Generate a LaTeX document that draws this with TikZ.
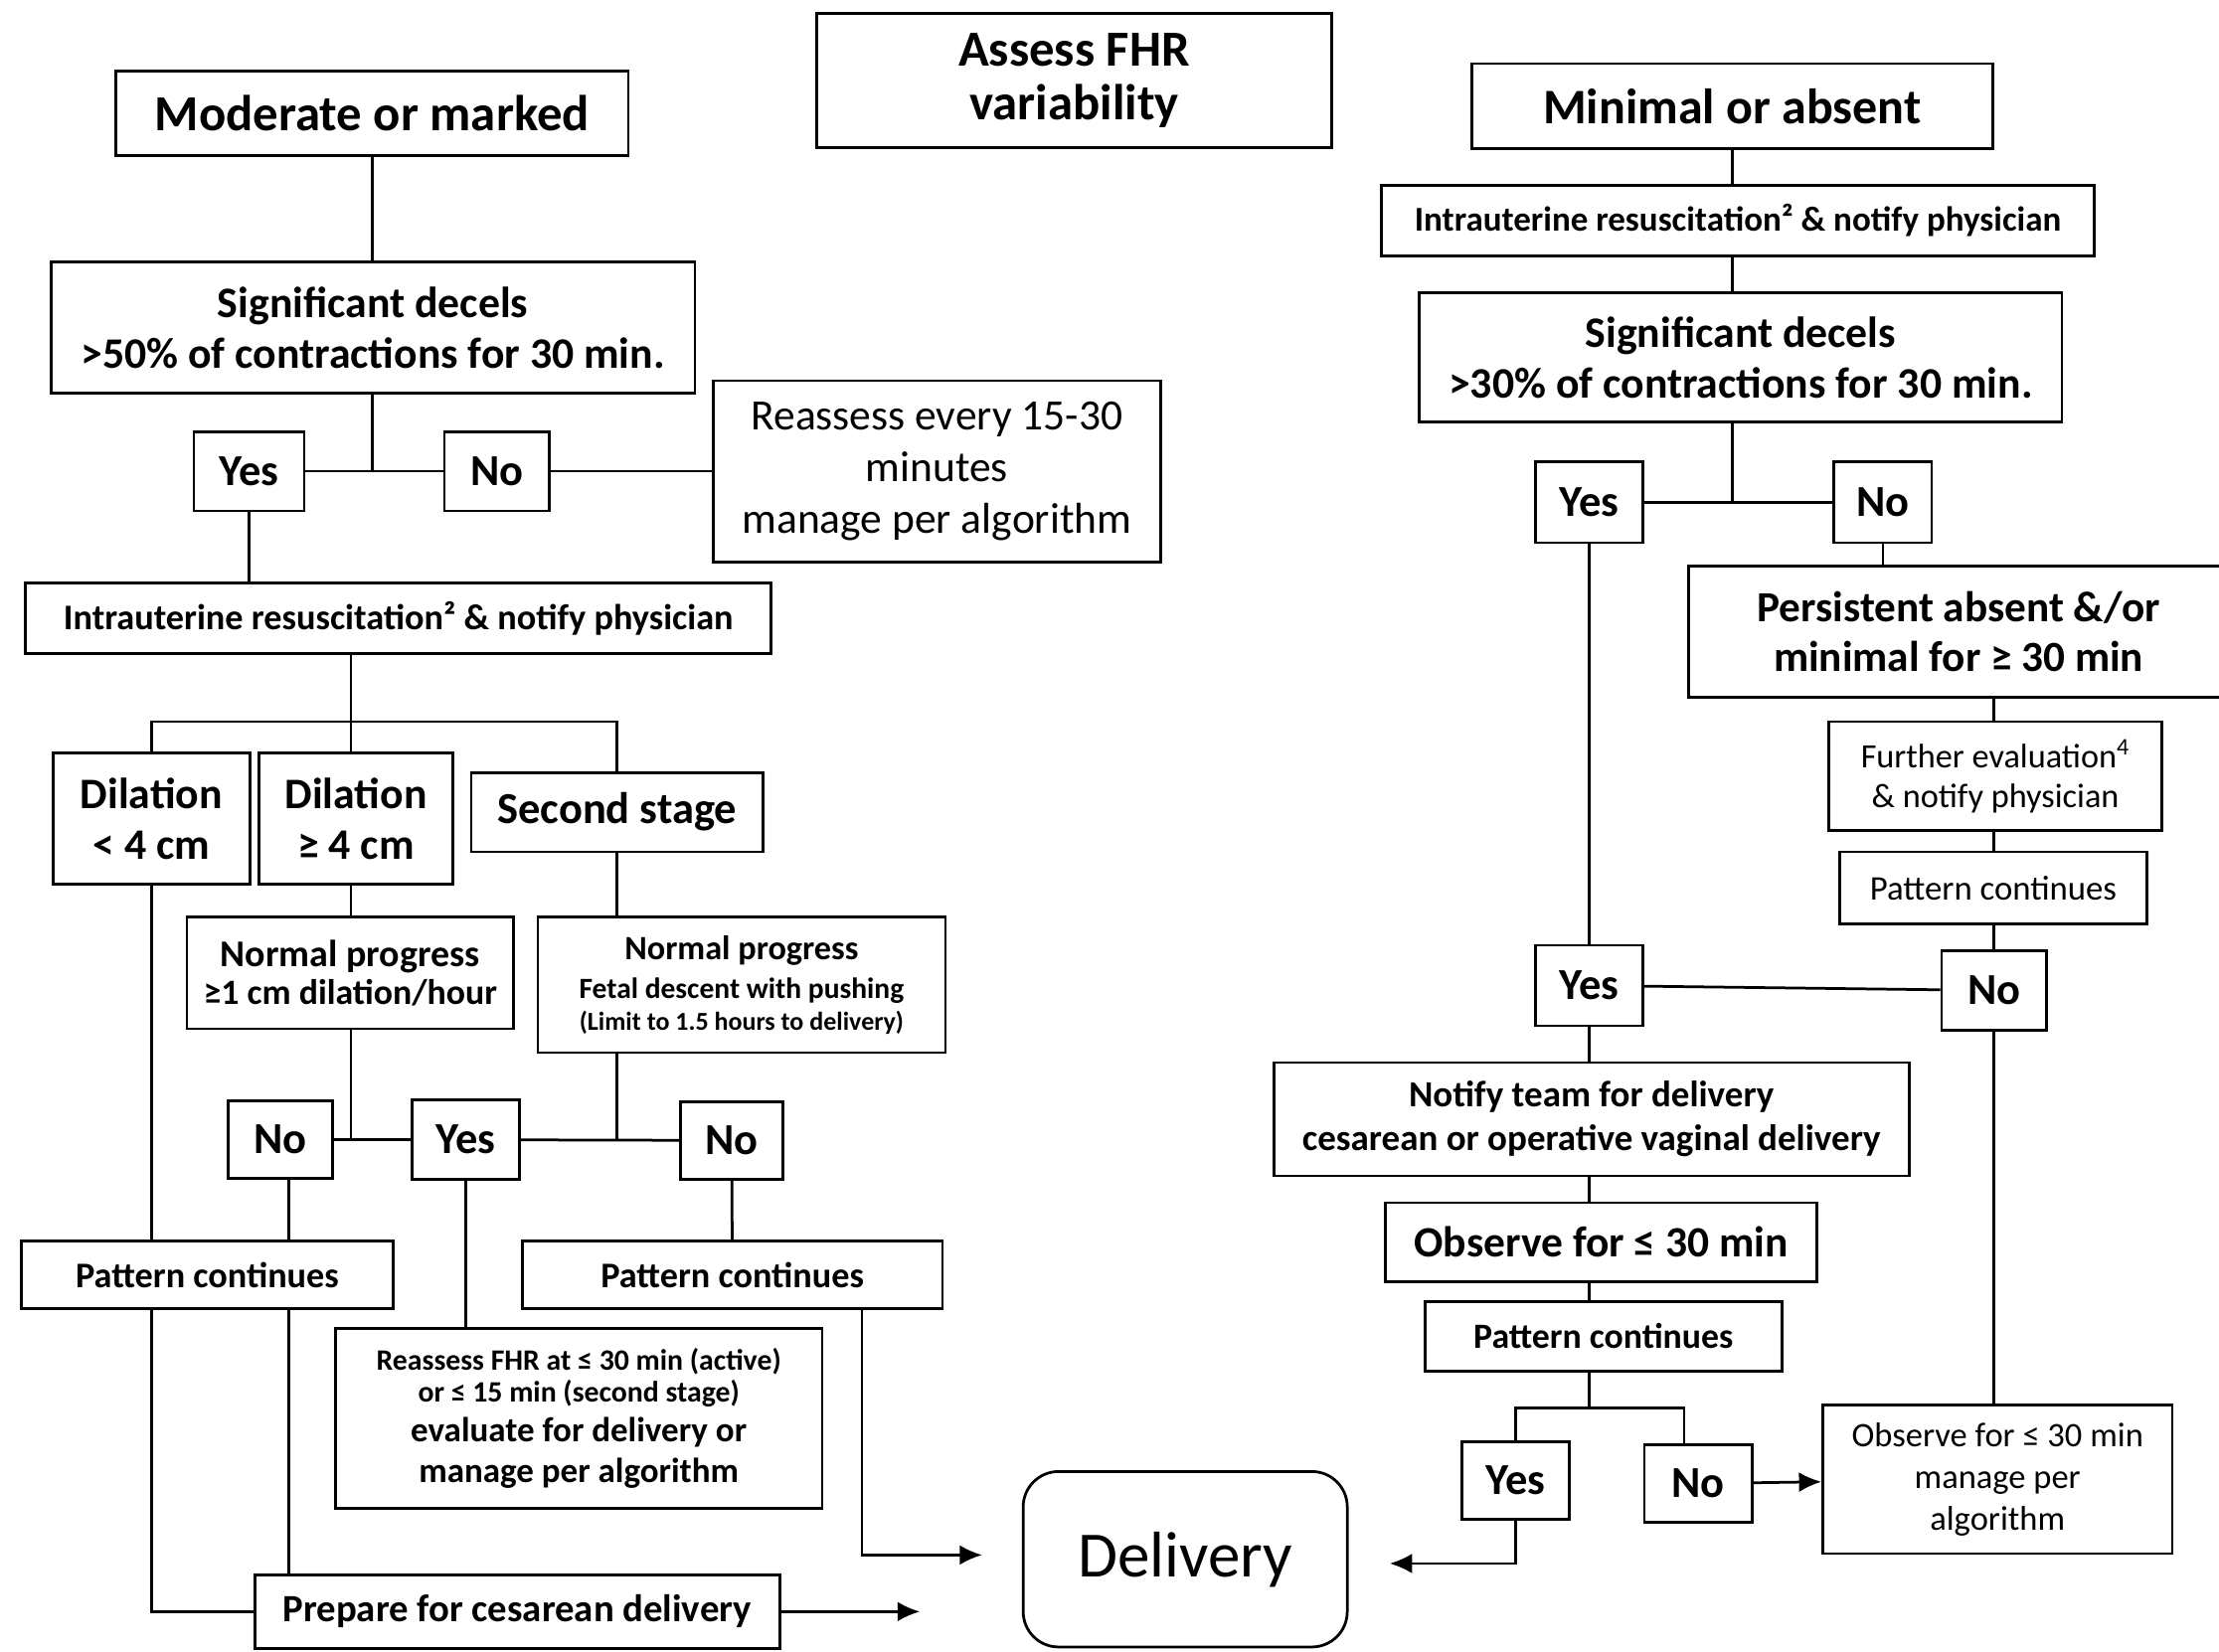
\documentclass[tikz,border=0pt]{standalone}
\usepackage{fontspec}
\setmainfont{Carlito}
\usetikzlibrary{arrows.meta}
\begin{document}
\begin{tikzpicture}[x=0.02cm,y=-0.02cm,
  bx/.style 2 args={draw, line width=1.1pt, align=center, inner sep=1pt,
    minimum width=#1*0.02cm, minimum height=#2*0.02cm},
  fb/.style 2 args={font=\bfseries\fontsize{#1}{#2}\selectfont},
  fr/.style 2 args={font=\mdseries\fontsize{#1}{#2}\selectfont},
  ln/.style={line width=1.1pt},
  ar/.style={line width=1.1pt, -{Latex[length=9pt,width=8pt]}}]
\useasboundingbox (0,0) rectangle (1568,1167);
\fill[white] (0,0) rectangle (1568,1167);

% ---------- top row ----------
\node[bx={362}{60},fb={20.3}{24}] (mod) at (263,80) {Moderate or marked};
\node[bx={364}{95},fb={20.3}{21.5}] (assess) at (759,57) {Assess FHR\\variability};
\node[bx={368}{60},fb={20}{24}] (min) at (1224,75) {Minimal or absent};

% ---------- left branch ----------
\node[bx={455}{93},fb={17.5}{20.4}] (sig1) at (263.5,231.5) {Significant decels\\>50\% of contractions for 30 min.};
\node[bx={78}{56},fb={17.8}{20}] (yes1) at (176,333) {Yes};
\node[bx={74}{56},fb={17.8}{20}] (no1) at (351,333) {No};
\node[bx={316}{128},fr={17.4}{20.7}] (reass) at (662,333) {Reassess every 15-30\\minutes\\manage per algorithm};
\node[bx={527}{50},fb={14.5}{16}] (iu1) at (281.5,437) {Intrauterine resuscitation² \& notify physician};

\node[bx={139}{93},fb={17.5}{20.4}] (dil1) at (107,578.5) {Dilation\\< 4 cm};
\node[bx={137}{93},fb={17.5}{20.4}] (dil2) at (251.5,578.5) {Dilation\\≥ 4 cm};
\node[bx={206}{56},fb={17.8}{20}] (sec) at (436,574) {Second stage};
\node[bx={231}{79},fb={14.3}{15.3}] (np1) at (247.5,687.5) {{\fontsize{15.2}{15.3}\selectfont Normal progress}\\≥1 cm dilation/hour};
\node[bx={288}{96},fb={10.4}{12.5}] (np2) at (524,696) {{\fontsize{13.7}{12.5}\selectfont Normal progress}\\[3.4pt]{\fontsize{11.8}{12.5}\selectfont Fetal descent with pushing}\\(Limit to 1.5 hours to delivery)};

\node[bx={74}{55},fb={17.8}{20}] (no2) at (198,805.5) {No};
\node[bx={76}{56},fb={17.8}{20}] (yes2) at (329,805.5) {Yes};
\node[bx={72}{55},fb={17.8}{20}] (no3) at (517,806) {No};

\node[bx={263}{48},fb={14.5}{16}] (pc1) at (146.5,901) {Pattern continues};
\node[bx={297}{48},fb={14.5}{16}] (pc2) at (517.5,901) {Pattern continues};
\node[bx={344}{127},fb={11.9}{13}] (rfhr) at (409,1002.5) {Reassess FHR at ≤ 30 min (active)\\or ≤ 15 min (second stage)\\[2.9pt]{\fontsize{14}{13}\selectfont evaluate for delivery or}\\[3.4pt]{\fontsize{14}{13}\selectfont manage per algorithm}};
\node[bx={371}{52},fb={15.5}{17}] (prep) at (365.5,1139) {Prepare for cesarean delivery};
\node[bx={229}{124},fr={26}{30},rounded corners=0.5cm] (deliv) at (837.5,1102) {Delivery};

% ---------- right branch ----------
\node[bx={504}{50},fb={14}{16}] (iu2) at (1228,156) {Intrauterine resuscitation² \& notify physician};
\node[bx={454}{91},fb={17.5}{20.4}] (sig2) at (1230,252.5) {Significant decels\\>30\% of contractions for 30 min.};
\node[bx={76}{57},fb={17.8}{20}] (yes3) at (1123,355) {Yes};
\node[bx={69}{57},fb={17.8}{20}] (no4) at (1330.5,355) {No};
\node[bx={382}{93},fb={17.3}{20}] (pers) at (1384,446.5) {Persistent absent \&/or\\minimal for ≥ 30 min};
\node[bx={235}{77},fr={13.7}{16}] (fe) at (1410,548.5) {Further evaluation\textsuperscript{4}\\\& notify physician};
\node[bx={217}{51},fr={13.9}{16}] (pcR) at (1408.5,627.5) {Pattern continues};
\node[bx={74}{56},fb={17.8}{20}] (noR) at (1409,700) {No};
\node[bx={76}{57},fb={17.8}{20}] (yes4) at (1123,696.5) {Yes};
\node[bx={449}{80},fb={14.8}{17.6}] (notify) at (1124.5,791) {Notify team for delivery\\cesarean or operative vaginal delivery};
\node[bx={305}{56},fb={17.4}{20}] (obs) at (1131.5,878) {Observe for ≤ 30 min};
\node[bx={252}{49},fb={14.3}{16}] (pc3) at (1133,944.5) {Pattern continues};
\node[bx={76}{55},fb={17.8}{20}] (yes5) at (1071,1046.5) {Yes};
\node[bx={76}{55},fb={17.8}{20}] (no5) at (1200,1048.5) {No};
\node[bx={247}{105},fr={13.8}{16.7}] (obs2) at (1411.5,1045.5) {Observe for ≤ 30 min\\manage per\\algorithm};

% ---------- helper coordinates ----------
\coordinate (br1) at (248,510);
\coordinate (c204) at (204,0);
\coordinate (c609) at (609,0);
\coordinate (a1) at (650,1139);
\coordinate (a2) at (694,1099);
\coordinate (br2) at (1123,995);
\coordinate (c1190) at (1190,0);
\coordinate (a3) at (982,1105);

% ---------- left connectors ----------
\draw[ln] (mod.south) -- (mod.south |- sig1.north);
\draw[ln] (sig1.south -| mod.south) -- (mod.south |- yes1.east);
\draw[ln] (yes1) -- (no1);
\draw[ln] (no1) -- (reass);
\draw[ln] (yes1) -- (yes1 |- iu1.north);
\draw[ln] (iu1.south -| br1) -- (br1);
\draw[ln] (dil1.north) |- (br1) -| (sec.north);
\draw[ln] (br1) -- (br1 |- dil2.north);
\draw[ln] (dil2.south -| br1) -- (np1.north -| br1);
\draw[ln] (sec.south) -- (sec.south |- np2.north);
\draw[ln] (np1.south -| br1) -- (br1 |- no2.east);
\draw[ln] (no2) -- (yes2);
\draw[ln] (np2.south -| sec.south) -- (sec.south |- no3.west);
\draw[ln] (yes2) -- (no3);
\draw[ln] (dil1.south) -- (dil1.south |- pc1.north);
\draw[ln] (no2.south -| c204) -- (pc1.north -| c204);
\draw[ln] (no3) -- (pc2);
\draw[ln] (yes2) -- (yes2 |- rfhr.north);
\draw[ln] (pc1.south -| dil1.south) |- (prep.west);
\draw[ln] (pc1.south -| c204) -- (prep.north -| c204);
\draw[ar] (prep.east) -- (a1);
\draw[ar] (pc2.south -| c609) |- (a2);

% ---------- right connectors ----------
\draw[ln] (min.south) -- (min.south |- iu2.north);
\draw[ln] (iu2.south -| min.south) -- (min.south |- sig2.north);
\draw[ln] (sig2.south -| min.south) -- (min.south |- yes3.east);
\draw[ln] (yes3) -- (no4);
\draw[ln] (no4.south) -- (no4.south |- pers.north);
\draw[ln] (yes3) -- (yes4);
\draw[ln] (pers.south -| noR) -- (fe.north -| noR);
\draw[ln] (fe.south -| noR) -- (pcR.north -| noR);
\draw[ln] (pcR.south -| noR) -- (noR.north);
\draw[ln] (yes4) -- (noR);
\draw[ln] (yes4) -- (yes4 |- notify.north);
\draw[ln] (notify.south -| yes4) -- (obs.north -| yes4);
\draw[ln] (obs.south -| yes4) -- (pc3.north -| yes4);
\draw[ln] (pc3.south -| br2) -- (br2);
\draw[ln] (yes5.north) |- (br2) -| (no5.north -| c1190);
\draw[ar] (no5) -- (obs2);
\draw[ln] (noR) -- (noR |- obs2.north);
\draw[ar] (yes5.south) |- (a3);
\end{tikzpicture}
\end{document}
